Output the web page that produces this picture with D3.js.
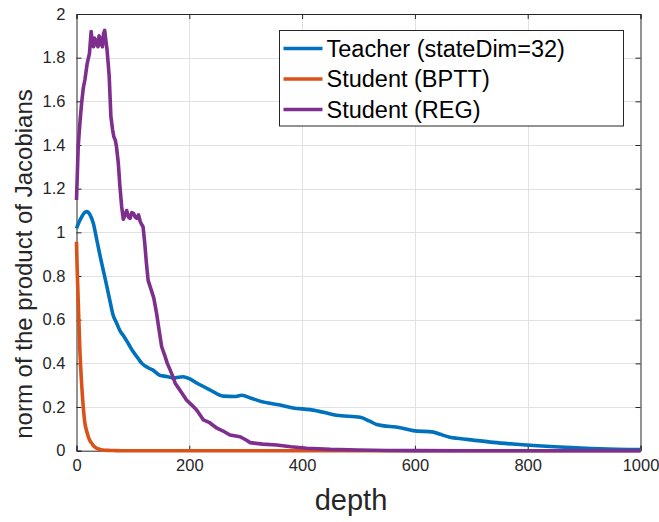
<!DOCTYPE html>
<html>
<head>
<meta charset="utf-8">
<script src="https://cdn.jsdelivr.net/npm/d3@7"></script>
<style>
  body { margin: 0; background: #fff; }
  svg { display: block; font-family: "Liberation Sans", Arial, Helvetica, sans-serif; }
</style>
</head>
<body>
<div id="chart"></div>
<script>
// values
let teacher_depth = [0, 5, 9, 14, 18, 24, 30, 36, 42, 48, 54, 59, 65, 71, 77, 85, 92, 100, 110, 116, 127, 135, 148, 160, 172, 189, 200, 213, 237, 260, 280, 293, 310, 325, 361, 384, 414, 440, 461, 503, 520, 532, 574, 597, 633, 645, 662, 674, 692, 739, 798, 857, 928, 1000];
let teacher_val = [1.018, 1.05, 1.07, 1.09, 1.095, 1.08, 1.04, 0.965, 0.89, 0.82, 0.75, 0.69, 0.62, 0.585, 0.55, 0.52, 0.49, 0.455, 0.42, 0.40, 0.38, 0.37, 0.345, 0.34, 0.333, 0.339, 0.33, 0.31, 0.278, 0.25, 0.248, 0.254, 0.24, 0.227, 0.209, 0.196, 0.188, 0.175, 0.162, 0.153, 0.135, 0.12, 0.105, 0.092, 0.085, 0.075, 0.062, 0.057, 0.052, 0.038, 0.026, 0.017, 0.009, 0.005];

let bptt_depth = [0, 1, 3, 6, 9, 12, 15, 18, 21, 24, 27, 31, 36, 42, 47, 55, 65, 80, 100, 200, 400, 600, 800, 1000];
let bptt_val = [0.957, 0.85, 0.69, 0.46, 0.31, 0.20, 0.125, 0.09, 0.064, 0.045, 0.034, 0.02, 0.011, 0.006, 0.003, 0.0015, 0.001, 0, 0, 0, 0, 0, 0, 0];

let reg_depth = [0, 3, 6, 9, 12, 15, 19, 23, 26, 28, 30, 32, 34, 36, 38, 40, 42, 44, 46, 48, 50, 52, 54, 56, 58, 61, 64, 66, 69, 71, 74, 77, 80, 83, 86, 89, 92, 95, 98, 101, 104, 107, 110, 113, 116, 118, 121, 124, 127, 132, 137, 142, 146, 151, 156, 161, 166, 170, 175, 180, 188, 195, 204, 213, 220, 225, 235, 249, 260, 272, 290, 300, 308, 330, 355, 380, 408, 450, 500, 550, 600, 700, 800, 1000];
let reg_val = [1.148, 1.39, 1.50, 1.59, 1.66, 1.70, 1.774, 1.82, 1.92, 1.87, 1.85, 1.89, 1.86, 1.88, 1.85, 1.90, 1.86, 1.89, 1.85, 1.91, 1.925, 1.88, 1.84, 1.78, 1.713, 1.53, 1.47, 1.44, 1.42, 1.39, 1.32, 1.21, 1.12, 1.06, 1.08, 1.10, 1.07, 1.064, 1.09, 1.087, 1.07, 1.064, 1.08, 1.05, 1.034, 1.026, 0.95, 0.858, 0.78, 0.74, 0.70, 0.629, 0.56, 0.476, 0.44, 0.40, 0.37, 0.345, 0.309, 0.29, 0.26, 0.232, 0.21, 0.186, 0.16, 0.141, 0.13, 0.103, 0.09, 0.072, 0.064, 0.05, 0.037, 0.03, 0.026, 0.018, 0.011, 0.006, 0.003, 0.001, 0.0005, 0, 0, 0];

let series_names = ["Teacher (stateDim=32)", "Student (BPTT)", "Student (REG)"];
let palette = ["#0072BD", "#D95319", "#7E2F8E"];
let x_ticks = [0, 200, 400, 600, 800, 1000];
let y_ticks = [0, 0.2, 0.4, 0.6, 0.8, 1, 1.2, 1.4, 1.6, 1.8, 2];

function main() {
    let W = 659, H = 522;
    let m = {left: 76.5, right: 18.5, top: 14, bottom: 71.3};
    let svg = d3.select("#chart").append("svg")
        .attr("width", W)
        .attr("height", H);

    let x = d3.scaleLinear().domain([0, 1000]).range([m.left, W - m.right]);
    let y = d3.scaleLinear().domain([0, 2]).range([H - m.bottom, m.top]);
    let axisColor = "#262626";

    // grid
    let grid = svg.append("g").attr("class", "grid")
        .attr("stroke", "#e1e1e1").attr("stroke-width", 1);
    grid.selectAll("line.gx").data(x_ticks.slice(1, -1)).enter().append("line")
        .attr("x1", d => Math.round(x(d)) + 0.5).attr("x2", d => Math.round(x(d)) + 0.5)
        .attr("y1", y(0)).attr("y2", y(2));
    grid.selectAll("line.gy").data(y_ticks.slice(1, -1)).enter().append("line")
        .attr("y1", d => Math.round(y(d)) + 0.5).attr("y2", d => Math.round(y(d)) + 0.5)
        .attr("x1", x(0)).attr("x2", x(1000));

    // axes: ticks inside, full box
    let tickFont = "16.5px";
    let gx = svg.append("g")
        .attr("transform", `translate(0,${y(0)})`)
        .call(d3.axisBottom(x).tickValues(x_ticks).tickSize(-5).tickPadding(9).tickFormat(d3.format("d")));
    let gxt = svg.append("g")
        .attr("transform", `translate(0,${y(2)})`)
        .call(d3.axisTop(x).tickValues(x_ticks).tickSize(-5).tickFormat(""));
    let gy = svg.append("g")
        .attr("transform", `translate(${x(0)},0)`)
        .call(d3.axisLeft(y).tickValues(y_ticks).tickSize(-5).tickPadding(11).tickFormat(d3.format("~g")));
    let gyr = svg.append("g")
        .attr("transform", `translate(${x(1000)},0)`)
        .call(d3.axisRight(y).tickValues(y_ticks).tickSize(-5).tickFormat(""));
    [gx, gxt, gy, gyr].forEach(g => {
        g.select(".domain").attr("stroke", axisColor).attr("stroke-width", 1);
        g.selectAll(".tick line").attr("stroke", axisColor);
        g.selectAll(".tick text")
            .attr("fill", axisColor)
            .style("font-size", tickFont)
            .style("font-family", '"Liberation Sans", Arial, sans-serif');
    });

    // lines
    let sets = [
        {depth: teacher_depth, val: teacher_val, curve: d3.curveMonotoneX},
        {depth: bptt_depth, val: bptt_val, curve: d3.curveMonotoneX},
        {depth: reg_depth, val: reg_val, curve: d3.curveLinear},
    ];
    sets.forEach((s, i) => {
        let pts = s.depth.map((d, j) => [d, s.val[j]]);
        svg.append("path")
            .datum(pts)
            .attr("fill", "none")
            .attr("stroke", palette[i])
            .attr("stroke-width", 3.6)
            .attr("stroke-linejoin", "round")
            .attr("d", d3.line().x(d => x(d[0])).y(d => y(d[1])).curve(s.curve));
    });

    // axis labels
    svg.append("text")
        .attr("x", 351).attr("y", 510)
        .attr("text-anchor", "middle")
        .attr("fill", axisColor)
        .style("font-size", "29px")
        .text("depth");
    svg.append("text")
        .attr("transform", "translate(32,264) rotate(-90)")
        .attr("text-anchor", "middle")
        .attr("fill", axisColor)
        .style("font-size", "24px")
        .text("norm of the product of Jacobians");

    // legend
    let lg = svg.append("g").attr("transform", "translate(279.5,30.5)");
    lg.append("rect")
        .attr("width", 344).attr("height", 95.5)
        .attr("fill", "#fff").attr("stroke", "#262626").attr("stroke-width", 1);
    series_names.forEach((name, i) => {
        let yy = 18 + i * 30.5;
        lg.append("line")
            .attr("x1", 4).attr("x2", 43)
            .attr("y1", yy).attr("y2", yy)
            .attr("stroke", palette[i]).attr("stroke-width", 3.6);
        lg.append("text")
            .attr("x", 47).attr("y", yy + 8.3)
            .attr("fill", "#000")
            .style("font-size", "23.5px")
            .text(name);
    });
}

main();
</script>
</body>
</html>
